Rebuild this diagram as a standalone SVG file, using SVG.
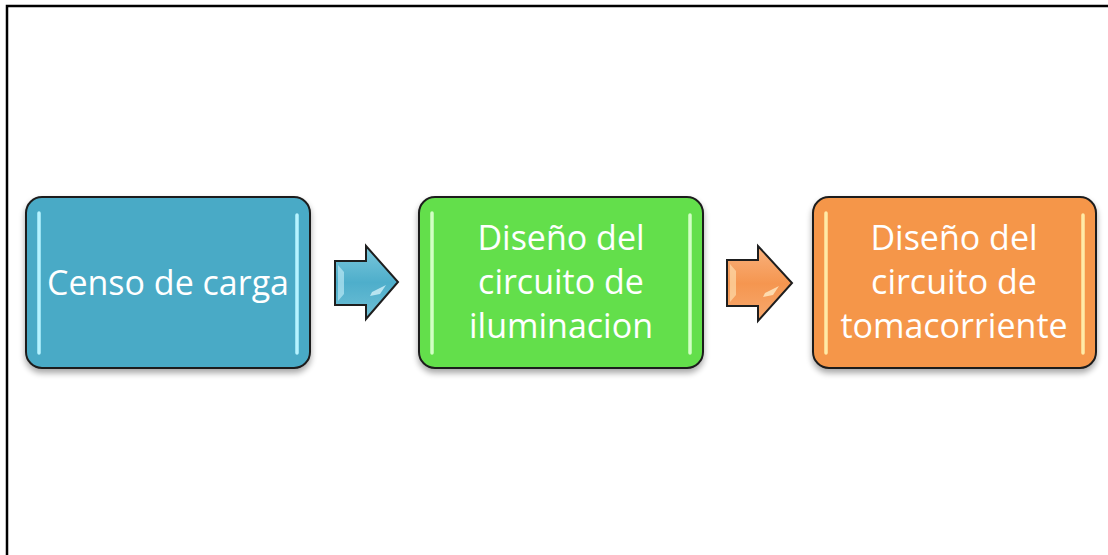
<svg xmlns="http://www.w3.org/2000/svg" width="1108" height="555" viewBox="0 0 1108 555">
<defs>
<style>
.box{stroke:#1e1e1e;stroke-width:2;filter:url(#sh)}
.lbl{font-family:"Open Sans","Liberation Sans",sans-serif;font-size:34px;fill:#ffffff;text-anchor:middle}
.hl{stroke-width:3.5;stroke-linecap:round}
.arr{stroke:#1e1e1e;stroke-width:2;stroke-linejoin:miter}
</style>
<filter id="sh" x="-10%" y="-10%" width="120%" height="130%">
<feGaussianBlur in="SourceAlpha" stdDeviation="3"/>
<feOffset dx="0" dy="4" result="b"/>
<feComponentTransfer><feFuncA type="linear" slope="0.35"/></feComponentTransfer>
<feMerge><feMergeNode/><feMergeNode in="SourceGraphic"/></feMerge>
</filter>
<linearGradient id="gb" x1="0" y1="0" x2="0" y2="1">
<stop offset="0" stop-color="#7cc8dc"/><stop offset="0.5" stop-color="#4eaecb"/><stop offset="1" stop-color="#6fc0d6"/>
</linearGradient>
<linearGradient id="go" x1="0" y1="0" x2="0" y2="1">
<stop offset="0" stop-color="#f9b27e"/><stop offset="0.5" stop-color="#f59650"/><stop offset="1" stop-color="#f7a96e"/>
</linearGradient>
</defs>
<rect width="1108" height="555" fill="#ffffff"/>
<path d="M7 555 V6 H1108" fill="none" stroke="#000" stroke-width="2.5"/>

<g id="node-censo">
<rect class="box" x="26" y="197" width="284" height="171" rx="16" fill="#4aaac6"/>
<line class="hl" x1="39" y1="213" x2="39" y2="353" stroke="#b6f3ff"/>
<line class="hl" x1="297" y1="215" x2="297" y2="353" stroke="#b6f3ff"/>
<text class="lbl" x="168" y="295">Censo de carga</text>
</g>

<g id="node-iluminacion">
<rect class="box" x="419" y="197" width="284" height="171" rx="16" fill="#63df4c"/>
<line class="hl" x1="432" y1="213" x2="432" y2="353" stroke="#d2ffc4"/>
<line class="hl" x1="690" y1="215" x2="690" y2="353" stroke="#d2ffc4"/>
<text class="lbl" x="561" y="250">Diseño del</text>
<text class="lbl" x="561" y="294">circuito de</text>
<text class="lbl" x="561" y="338">iluminacion</text>
</g>

<g id="node-tomacorriente">
<rect class="box" x="813" y="197" width="283" height="171" rx="16" fill="#f59649"/>
<line class="hl" x1="826" y1="213" x2="826" y2="353" stroke="#ffeaa6"/>
<line class="hl" x1="1083" y1="215" x2="1083" y2="353" stroke="#ffeaa6"/>
<text class="lbl" x="954" y="250">Diseño del</text>
<text class="lbl" x="954" y="294">circuito de</text>
<text class="lbl" x="954" y="338">tomacorriente</text>
</g>

<g id="connectors">
<polygon class="arr" fill="url(#gb)" points="335,261 366,261 366,246 398,282 366,319 366,305 335,305"/>
<polygon points="338,265 344,272 344,294 338,301" fill="#d4f6ff" opacity="0.55"/>
<polygon points="372,292 386,285 380,294 370,296" fill="#e2faff" opacity="0.7"/>
<polygon class="arr" fill="url(#go)" points="727,260 758,260 758,246 792,283 758,321 758,306 727,306"/>
<polygon points="730,264 736,271 736,295 730,302" fill="#ffe6b8" opacity="0.6"/>
<polygon points="765,293 779,286 773,295 763,297" fill="#fff0cc" opacity="0.75"/>
</g>
</svg>
